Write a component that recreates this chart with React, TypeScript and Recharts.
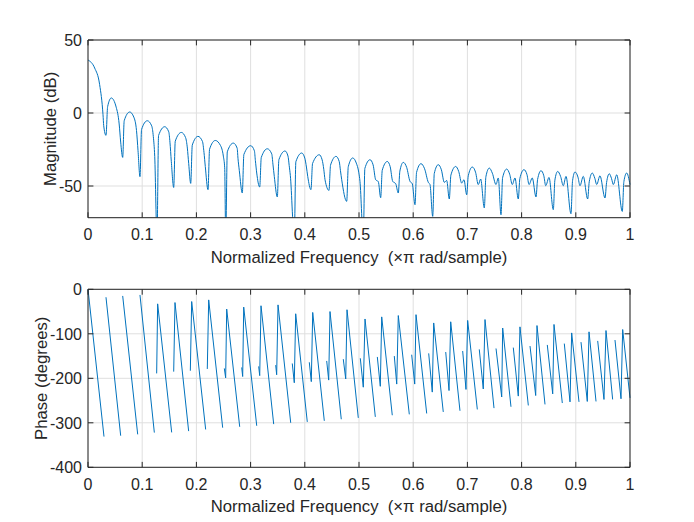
import { CartesianGrid, Label, Line, LineChart, ReferenceLine, XAxis, YAxis } from 'recharts';

const FONT = '"Liberation Sans", Arial, Helvetica, sans-serif';
const INK = '#262626';
const GRID = '#dfdfdf';
const BLUE = '#0072bd';

const xTicks = [0, 0.1, 0.2, 0.3, 0.4, 0.5, 0.6, 0.7, 0.8, 0.9, 1];
const magTicks = [-50, 0, 50];
const phaseTicks = [-400, -300, -200, -100, 0];
const magDomain: [number, number] = [-71.7, 50];
const phaseDomain: [number, number] = [-400, 0];

const xTitle = 'Normalized Frequency  (\u00d7\u03c0 rad/sample)';

// magnitude trace: [normalized freq, dB]
const magPoints: [number, number][] = [
  [0, 36.3], [0.0123, 30.8], [0.0215, 19.4], [0.0277, -1.2], [0.029, -8.7],
  [0.0332, -15.3], [0.0362, 4.3], [0.043, 10.3], [0.052, 4.0], [0.0575, -7.5], [0.0603, -19.9],
  [0.064, -30.4], [0.0668, -5.3], [0.0769, 0.7], [0.0845, -2.8], [0.0895, -12], [0.0923, -25.8],
  [0.0959, -43.6], [0.0988, -11.3], [0.1094, -5.3], [0.1175, -8.8], [0.1205, -16], [0.1231, -29.7],
  [0.1273, -85], [0.1302, -15.4], [0.1415, -9.4], [0.149, -12.9], [0.1512, -20], [0.1537, -33.1],
  [0.1581, -51], [0.161, -19.3], [0.1722, -13.3], [0.18, -16.8], [0.1833, -24], [0.1858, -34.7],
  [0.1895, -48.2], [0.1924, -22], [0.203, -16], [0.2112, -19.5], [0.214, -27], [0.2164, -36.6],
  [0.2214, -52.5], [0.2243, -24.8], [0.2349, -18.8], [0.2445, -22.3], [0.2497, -29.5], [0.2522, -37.5],
  [0.2541, -85], [0.257, -26.6], [0.2681, -20.6], [0.2752, -24.1], [0.2767, -31], [0.2792, -39.5],
  [0.2847, -54.8], [0.2876, -28.4], [0.3002, -22.4], [0.307, -25.9], [0.3088, -32.5], [0.3113, -41.1],
  [0.3168, -50.7], [0.3197, -30.5], [0.3308, -24.5], [0.339, -28], [0.3412, -35], [0.3437, -43.4],
  [0.3493, -57.5], [0.3522, -32], [0.3635, -26], [0.369, -29.5], [0.3712, -36], [0.3733, -42.7],
  [0.3806, -85], [0.3835, -33.4], [0.3943, -27.4], [0.4, -30.9], [0.403, -37], [0.4054, -43.4],
  [0.4114, -52.5], [0.4143, -34.6], [0.4267, -28.6], [0.432, -32.1], [0.435, -38.5], [0.4373, -45.7],
  [0.4446, -53], [0.4475, -35.7], [0.4576, -29.7], [0.4635, -33.2], [0.4658, -39.5], [0.4681, -45.7],
  [0.4773, -60.5], [0.4802, -36.8], [0.4884, -30.8], [0.495, -34.3], [0.4995, -40.5], [0.5018, -46.8],
  [0.5079, -85], [0.5108, -38], [0.5203, -32], [0.526, -35.5], [0.5308, -45.7], [0.5356, -47], [0.54, -58],
  [0.5429, -39.2], [0.5522, -33.2], [0.5575, -36.7], [0.5622, -46.8], [0.5677, -48.4], [0.5725, -54.8],
  [0.5754, -39.8], [0.5817, -33.8], [0.588, -37.3], [0.5941, -46.8], [0.5983, -48.4], [0.6033, -62.8],
  [0.6062, -40.7], [0.6144, -34.7], [0.621, -38.2], [0.6279, -47.5], [0.631, -49], [0.636, -70.8],
  [0.6389, -41.4], [0.6463, -35.4], [0.652, -38.9], [0.6574, -47.5], [0.6618, -46.2], [0.6666, -58.9],
  [0.6695, -42.6], [0.6784, -36.6], [0.684, -40.1], [0.6895, -48], [0.6937, -45.7], [0.6987, -56],
  [0.7016, -43], [0.709, -37], [0.715, -40.5], [0.7201, -49], [0.7245, -45.2], [0.7312, -65],
  [0.7341, -43.7], [0.7404, -37.7], [0.746, -41.2], [0.7528, -49], [0.757, -44.5], [0.762, -69.7],
  [0.7649, -44.4], [0.7725, -38.4], [0.778, -41.9], [0.7828, -49], [0.7878, -44.5], [0.7939, -58.9],
  [0.7968, -44.8], [0.8044, -38.8], [0.81, -42.3], [0.8137, -49], [0.8197, -44.5], [0.8266, -57.5],
  [0.8295, -45.5], [0.8358, -39.5], [0.841, -43], [0.8445, -49.8], [0.8506, -44.1], [0.8585, -66.2],
  [0.8614, -46], [0.8666, -40], [0.872, -43.5], [0.8769, -49.8], [0.8819, -43.4], [0.8911, -69],
  [0.894, -46.4], [0.8985, -40.4], [0.904, -43.9], [0.9077, -49.8], [0.9138, -43.4], [0.9219, -58.9],
  [0.9248, -47.1], [0.9304, -41.1], [0.935, -44.6], [0.9386, -49], [0.9446, -43], [0.9539, -58.2],
  [0.9568, -47.6], [0.9618, -41.6], [0.966, -45], [0.9692, -49], [0.9755, -42.3], [0.9858, -67.4],
  [0.9887, -47], [0.9939, -41.1], [1, -49],
];

// phase trace, one list per visible stroke: [normalized freq, degrees]
const phaseSegments: [number, number][][] = [
  [[0, 0], [0.0295, -331]],
  [[0.0332, -17.8], [0.0603, -329]],
  [[0.064, -14.9], [0.0917, -326]],
  [[0.0959, -12.7], [0.1224, -322]],
  [[0.1267, -189], [0.1285, -32.7], [0.1544, -321.6]],
  [[0.1581, -185], [0.1605, -29.8], [0.1857, -318.7]],
  [[0.1888, -183], [0.1913, -27.5], [0.2171, -315]],
  [[0.2201, -179], [0.2227, -23.8], [0.2485, -311]],
  [[0.2515, -177.8], [0.254, -199], [0.2559, -44.4], [0.2799, -309]],
  [[0.2836, -175.6], [0.2854, -196], [0.2873, -40], [0.3113, -306.7]],
  [[0.3149, -173.3], [0.3168, -194], [0.3192, -37], [0.3426, -303]],
  [[0.3463, -170.4], [0.3481, -192], [0.3506, -35], [0.374, -300]],
  [[0.3769, -166.7], [0.3806, -210], [0.3832, -55], [0.4046, -298]],
  [[0.4083, -164], [0.412, -207.5], [0.4146, -52], [0.436, -295.6]],
  [[0.4404, -161], [0.4441, -204], [0.4465, -50], [0.4673, -292]],
  [[0.471, -157], [0.4755, -201.5], [0.4779, -46], [0.4987, -289]],
  [[0.5024, -155], [0.5079, -220], [0.5111, -66.7], [0.5301, -286.7]],
  [[0.5338, -152], [0.5393, -218], [0.5419, -62], [0.5614, -283]],
  [[0.5651, -150], [0.5696, -213], [0.5725, -59], [0.5928, -281]],
  [[0.5972, -147], [0.6028, -213], [0.6052, -57], [0.6249, -279]],
  [[0.6286, -144], [0.6352, -231], [0.6378, -75.6], [0.6555, -275.6]],
  [[0.66, -141], [0.6661, -227.5], [0.6692, -73], [0.6863, -273]],
  [[0.6913, -138.7], [0.6974, -225], [0.7005, -70], [0.7183, -270]],
  [[0.7219, -135], [0.7293, -224], [0.7325, -68], [0.7491, -267]],
  [[0.7528, -133], [0.7633, -242], [0.7651, -87], [0.7804, -264]],
  [[0.7847, -131], [0.7939, -240], [0.797, -84.4], [0.8124, -261]],
  [[0.8155, -127.5], [0.826, -238.7], [0.8284, -81.5], [0.8432, -258.7]],
  [[0.8474, -125], [0.8574, -235], [0.8598, -79], [0.8751, -255.6]],
  [[0.8788, -122], [0.8893, -253], [0.8924, -98], [0.9059, -253]],
  [[0.9096, -118.7], [0.9212, -252], [0.9244, -95.6], [0.9373, -252]],
  [[0.9404, -116], [0.952, -247.5], [0.9557, -92.7], [0.968, -247.5]],
  [[0.9723, -114], [0.9834, -246], [0.9865, -90.4], [1, -244]],
];

const magData = magPoints.map(([f, v]) => ({ f, v }));

// a null row between strokes keeps them apart
const phaseData = phaseSegments.flatMap((seg, i) => {
  const rows: { f: number; v: number | null }[] = seg.map(([f, v]) => ({ f, v }));
  if (i === 0) return rows;
  const prev = phaseSegments[i - 1];
  return [{ f: (prev[prev.length - 1][0] + seg[0][0]) / 2, v: null }, ...rows];
});

const XTick = (props: any) => (
  <text x={props.x} y={props.y + 22.7} textAnchor="middle" fontSize={16} fill={INK} fontFamily={FONT}>
    {String(props.payload.value)}
  </text>
);

const YTick = (props: any) => (
  <text x={props.x - 6} y={props.y + 5.7} textAnchor="end" fontSize={16} fill={INK} fontFamily={FONT}>
    {String(props.payload.value)}
  </text>
);

interface PanelProps {
  data: { f: number; v: number | null }[];
  domain: [number, number];
  yTicks: number[];
  yTitle: string;
  yTitleGap: number;
  height: number;
  top: number;
  bottom: number;
  curve: 'monotone' | 'linear';
}

function Panel({ data, domain, yTicks, yTitle, yTitleGap, height, top, bottom, curve }: PanelProps) {
  const [y0, y1] = domain;
  const tickY = (y1 - y0) * 0.0304;
  const tickX = 0.01;
  const edge = { stroke: INK, strokeWidth: 1, ifOverflow: 'visible' as const };

  return (
    <LineChart width={694} height={height} data={data} margin={{ top, right: 64, bottom, left: 48 }}>
      <CartesianGrid stroke={GRID} strokeWidth={1} />
      <XAxis
        dataKey="f"
        type="number"
        domain={[0, 1]}
        ticks={xTicks}
        interval={0}
        height={30}
        tickSize={0}
        tickMargin={0}
        tickLine={false}
        axisLine={{ stroke: INK }}
        tick={XTick}
      >
        <Label
          content={(p: any) => (
            <text
              x={p.viewBox.x + p.viewBox.width / 2}
              y={p.viewBox.y + 45}
              textAnchor="middle"
              fontSize={16.7}
              fill={INK}
              fontFamily={FONT}
              style={{ whiteSpace: 'pre' }}
            >
              {xTitle}
            </text>
          )}
        />
      </XAxis>
      <YAxis
        type="number"
        domain={domain}
        ticks={yTicks}
        interval={0}
        width={40}
        allowDataOverflow
        tickSize={0}
        tickMargin={0}
        tickLine={false}
        axisLine={{ stroke: INK }}
        tick={YTick}
      >
        <Label
          content={(p: any) => {
            const cx = p.viewBox.x + p.viewBox.width - yTitleGap;
            const cy = p.viewBox.y + p.viewBox.height / 2;
            return (
              <text
                x={cx}
                y={cy}
                transform={`rotate(-90 ${cx} ${cy})`}
                textAnchor="middle"
                fontSize={16.7}
                fill={INK}
                fontFamily={FONT}
              >
                {yTitle}
              </text>
            );
          }}
        />
      </YAxis>
      <Line
        dataKey="v"
        type={curve}
        stroke={BLUE}
        strokeWidth={1}
        dot={false}
        activeDot={false}
        connectNulls={false}
        isAnimationActive={false}
      />
      <ReferenceLine y={y1} {...edge} />
      <ReferenceLine x={1} {...edge} />
      {xTicks.map((t) => (
        <ReferenceLine key={`xb${t}`} segment={[{ x: t, y: y0 }, { x: t, y: y0 + tickY }]} {...edge} />
      ))}
      {xTicks.map((t) => (
        <ReferenceLine key={`xt${t}`} segment={[{ x: t, y: y1 }, { x: t, y: y1 - tickY }]} {...edge} />
      ))}
      {yTicks.map((t) => (
        <ReferenceLine key={`yl${t}`} segment={[{ x: 0, y: t }, { x: tickX, y: t }]} {...edge} />
      ))}
      {yTicks.map((t) => (
        <ReferenceLine key={`yr${t}`} segment={[{ x: 1, y: t }, { x: 1 - tickX, y: t }]} {...edge} />
      ))}
    </LineChart>
  );
}

export default function App() {
  return (
    <div style={{ position: 'absolute', left: 0, top: 0, width: 694, height: 522, background: '#ffffff' }}>
      <div style={{ position: 'absolute', left: 0, top: 0 }}>
        <Panel
          data={magData}
          domain={magDomain}
          yTicks={magTicks}
          yTitle="Magnitude (dB)"
          yTitleGap={32}
          height={275}
          top={40}
          bottom={27.3}
          curve="monotone"
        />
      </div>
      <div style={{ position: 'absolute', left: 0, top: 260 }}>
        <Panel
          data={phaseData}
          domain={phaseDomain}
          yTicks={phaseTicks}
          yTitle="Phase (degrees)"
          yTitleGap={41}
          height={262}
          top={29.3}
          bottom={24.7}
          curve="linear"
        />
      </div>
    </div>
  );
}
